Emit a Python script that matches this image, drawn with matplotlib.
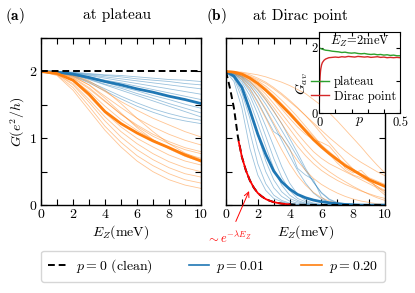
import numpy as np
import matplotlib
matplotlib.use('Agg')
import matplotlib.pyplot as plt

plt.rcParams['font.family'] = ['cmr10', 'DejaVu Serif']
plt.rcParams['mathtext.fontset'] = 'cm'
plt.rcParams['axes.formatter.use_mathtext'] = True
plt.rcParams['font.size'] = 10

# ---- data ----
E_a = [0, 1, 2, 3, 4, 5, 6, 7, 8, 9, 10]
blue_a_thin = [
    [2.0, 2.0, 1.99, 1.97, 1.95, 1.94, 1.92, 1.90, 1.88, 1.87, 1.85],
    [2.0, 2.0, 1.98, 1.96, 1.94, 1.92, 1.89, 1.87, 1.85, 1.82, 1.80],
    [2.0, 1.99, 1.98, 1.95, 1.92, 1.89, 1.86, 1.83, 1.80, 1.77, 1.74],
    [2.0, 1.99, 1.97, 1.94, 1.90, 1.86, 1.82, 1.78, 1.74, 1.70, 1.66],
    [2.0, 1.99, 1.97, 1.92, 1.87, 1.83, 1.78, 1.73, 1.68, 1.63, 1.58],
    [2.0, 1.99, 1.96, 1.90, 1.84, 1.77, 1.71, 1.64, 1.58, 1.51, 1.45],
    [2.0, 1.99, 1.95, 1.89, 1.81, 1.75, 1.67, 1.60, 1.52, 1.45, 1.38],
    [2.0, 1.99, 1.95, 1.88, 1.80, 1.72, 1.64, 1.56, 1.48, 1.40, 1.32],
    [2.0, 1.99, 1.94, 1.85, 1.74, 1.63, 1.53, 1.44, 1.37, 1.31, 1.27],
    [2.0, 1.99, 1.93, 1.83, 1.71, 1.59, 1.48, 1.39, 1.31, 1.26, 1.22],
]
blue_a_mean = [2.0, 1.99, 1.96, 1.91, 1.85, 1.80, 1.74, 1.69, 1.63, 1.58, 1.52]
orange_a_thin = [
    [2.0, 1.99, 1.94, 1.84, 1.70, 1.55, 1.42, 1.30, 1.20, 1.10, 1.02],
    [2.0, 1.98, 1.92, 1.80, 1.63, 1.46, 1.30, 1.17, 1.06, 0.97, 0.90],
    [2.0, 1.98, 1.90, 1.74, 1.55, 1.36, 1.20, 1.06, 0.95, 0.86, 0.80],
    [2.0, 1.97, 1.88, 1.70, 1.48, 1.28, 1.12, 0.98, 0.86, 0.77, 0.70],
    [2.0, 1.97, 1.85, 1.63, 1.38, 1.17, 1.00, 0.87, 0.75, 0.66, 0.60],
    [2.0, 1.96, 1.82, 1.58, 1.32, 1.10, 0.92, 0.77, 0.65, 0.56, 0.50],
    [2.0, 1.96, 1.80, 1.54, 1.26, 1.02, 0.83, 0.68, 0.56, 0.47, 0.42],
    [2.0, 1.95, 1.76, 1.48, 1.18, 0.94, 0.74, 0.59, 0.47, 0.38, 0.33],
    [2.0, 1.94, 1.72, 1.42, 1.12, 0.87, 0.66, 0.50, 0.38, 0.30, 0.25],
    [2.0, 1.98, 1.93, 1.80, 1.60, 1.38, 1.16, 0.98, 0.84, 0.73, 0.65],
    [2.0, 1.99, 1.95, 1.86, 1.72, 1.52, 1.30, 1.10, 0.92, 0.78, 0.68],
    [2.0, 1.98, 1.91, 1.76, 1.56, 1.36, 1.18, 1.03, 0.92, 0.83, 0.77],
]
orange_a_mean = [2.0, 1.97, 1.87, 1.66, 1.40, 1.22, 1.08, 0.96, 0.86, 0.75, 0.66]

E_b = np.arange(0, 10.01, 0.5)
blue_b_thin = [
    [2.0, 1.85, 1.45, 0.85, 0.45, 0.22, 0.10, 0.05, 0.02, 0.01, 0, 0, 0, 0, 0, 0, 0, 0, 0, 0, 0],
    [2.0, 1.90, 1.60, 1.10, 0.62, 0.32, 0.15, 0.07, 0.03, 0.01, 0, 0, 0, 0, 0, 0, 0, 0, 0, 0, 0],
    [2.0, 1.92, 1.68, 1.30, 0.85, 0.50, 0.26, 0.13, 0.06, 0.03, 0.01, 0, 0, 0, 0, 0, 0, 0, 0, 0, 0],
    [2.0, 1.94, 1.76, 1.45, 1.05, 0.66, 0.38, 0.20, 0.10, 0.05, 0.02, 0.01, 0, 0, 0, 0, 0, 0, 0, 0, 0],
    [2.0, 1.95, 1.80, 1.55, 1.22, 0.88, 0.55, 0.30, 0.15, 0.07, 0.03, 0.01, 0, 0, 0, 0, 0, 0, 0, 0, 0],
    [2.0, 1.96, 1.84, 1.64, 1.36, 1.03, 0.70, 0.42, 0.22, 0.10, 0.05, 0.02, 0, 0, 0, 0, 0, 0, 0, 0, 0],
    [2.0, 1.97, 1.87, 1.70, 1.46, 1.18, 0.88, 0.58, 0.33, 0.16, 0.07, 0.03, 0.01, 0, 0, 0, 0, 0, 0, 0, 0],
    [2.0, 1.97, 1.89, 1.75, 1.55, 1.32, 1.10, 1.02, 0.85, 0.55, 0.45, 0.38, 0.12, 0.03, 0, 0, 0, 0, 0, 0, 0],
    [2.0, 1.98, 1.91, 1.79, 1.62, 1.42, 1.20, 0.97, 0.74, 0.52, 0.33, 0.18, 0.09, 0.04, 0.02, 0.01, 0, 0, 0, 0, 0],
    [2.0, 1.98, 1.92, 1.82, 1.68, 1.51, 1.32, 1.12, 0.92, 0.72, 0.52, 0.34, 0.19, 0.09, 0.04, 0.02, 0.01, 0, 0, 0, 0],
    [2.0, 1.98, 1.93, 1.85, 1.73, 1.58, 1.41, 1.22, 1.00, 0.78, 0.55, 0.35, 0.18, 0.08, 0.03, 0.01, 0, 0, 0, 0, 0],
]
blue_b_mean = [2.0, 1.93, 1.76, 1.42, 1.06, 0.76, 0.51, 0.35, 0.24, 0.16, 0.11, 0.075, 0.05, 0.035,
               0.02, 0.01, 0.005, 0, 0, 0, 0]
orange_b_thin = [
    [2.0, 2.0, 1.99, 1.97, 1.95, 1.92, 1.88, 1.84, 1.79, 1.73, 1.67, 1.58, 1.49, 1.38, 1.26, 1.13, 1.00, 0.87, 0.73, 0.60, 0.48],
    [2.0, 1.99, 1.97, 1.93, 1.88, 1.82, 1.74, 1.65, 1.55, 1.45, 1.34, 1.23, 1.12, 1.01, 0.91, 0.81, 0.72, 0.64, 0.57, 0.50, 0.44],
    [2.0, 1.99, 1.96, 1.91, 1.84, 1.75, 1.64, 1.52, 1.40, 1.27, 1.14, 1.02, 0.90, 0.80, 0.70, 0.62, 0.54, 0.47, 0.41, 0.36, 0.31],
    [2.0, 1.99, 1.95, 1.88, 1.78, 1.66, 1.52, 1.37, 1.22, 1.07, 0.93, 0.80, 0.70, 0.62, 0.56, 0.50, 0.44, 0.38, 0.32, 0.26, 0.21],
    [2.0, 1.98, 1.93, 1.84, 1.72, 1.57, 1.40, 1.22, 1.04, 0.88, 0.74, 0.62, 0.52, 0.44, 0.37, 0.31, 0.26, 0.21, 0.17, 0.13, 0.10],
    [2.0, 1.98, 1.91, 1.79, 1.63, 1.44, 1.23, 1.02, 0.83, 0.66, 0.52, 0.40, 0.31, 0.24, 0.18, 0.13, 0.09, 0.06, 0.04, 0.02, 0.01],
    [2.0, 1.97, 1.88, 1.73, 1.53, 1.30, 1.06, 0.83, 0.62, 0.44, 0.30, 0.19, 0.11, 0.06, 0.03, 0.01, 0, 0, 0, 0, 0],
    [2.0, 1.99, 1.96, 1.90, 1.82, 1.71, 1.58, 1.44, 1.30, 1.17, 1.06, 0.98, 0.94, 0.88, 0.74, 0.55, 0.48, 0.52, 0.40, 0.25, 0.15],
    [2.0, 2.0, 1.98, 1.95, 1.90, 1.84, 1.76, 1.67, 1.57, 1.46, 1.34, 1.21, 1.07, 0.93, 0.79, 0.66, 0.54, 0.44, 0.35, 0.28, 0.22],
    [2.0, 1.99, 1.97, 1.92, 1.86, 1.78, 1.68, 1.57, 1.45, 1.32, 1.18, 1.04, 0.90, 0.76, 0.63, 0.52, 0.45, 0.41, 0.36, 0.28, 0.18],
    [2.0, 1.99, 1.94, 1.86, 1.75, 1.61, 1.46, 1.30, 1.14, 0.98, 0.83, 0.70, 0.59, 0.50, 0.42, 0.35, 0.28, 0.22, 0.16, 0.11, 0.07],
]
orange_b_mean = [2.0, 1.99, 1.96, 1.90, 1.82, 1.72, 1.61, 1.49, 1.37, 1.24, 1.11, 0.98, 0.87, 0.77,
                 0.68, 0.59, 0.52, 0.45, 0.38, 0.33, 0.28]

E_clean = [0, 0.25, 0.5, 0.75, 1.0, 1.25, 1.5, 1.75, 2.0, 2.25, 2.5, 2.75, 3.0, 3.25, 3.5, 3.75,
           4.0, 4.25, 4.5, 4.75, 5.0, 10.0]
G_clean = [2.0, 1.75, 1.45, 1.02, 0.72, 0.52, 0.37, 0.26, 0.18, 0.13, 0.09, 0.065, 0.045, 0.032,
           0.022, 0.016, 0.011, 0.008, 0.005, 0.004, 0.003, 0.0]
E_fit = [0.8, 1.0, 1.25, 1.5, 1.75, 2.0, 2.25, 2.5, 2.75, 3.0, 3.25, 3.5, 3.75, 4.0]
G_fit = [0.95, 0.72, 0.52, 0.37, 0.26, 0.18, 0.13, 0.09, 0.065, 0.045, 0.032, 0.022, 0.016, 0.011]

# inset: average conductance vs disorder p at E_Z = 2 meV
p_plat = np.arange(0, 0.501, 0.02)
g_plat = [2.0, 1.96, 1.93, 1.92, 1.90, 1.89, 1.88, 1.86, 1.87, 1.85, 1.84, 1.85, 1.83, 1.82, 1.83,
          1.81, 1.80, 1.81, 1.79, 1.80, 1.78, 1.79, 1.77, 1.78, 1.76, 1.76]
p_dirac = [0, 0.002, 0.004, 0.006, 0.008, 0.01, 0.015, 0.02, 0.03, 0.04, 0.05, 0.06, 0.08] + \
    list(np.arange(0.10, 0.501, 0.02))
g_dirac = [0.0, 0.55, 0.90, 1.12, 1.26, 1.35, 1.48, 1.55, 1.62, 1.66, 1.68, 1.70, 1.71,
           1.72, 1.71, 1.73, 1.72, 1.74, 1.73, 1.72, 1.74, 1.73, 1.72, 1.73, 1.71, 1.72, 1.73,
           1.71, 1.72, 1.70, 1.71, 1.70, 1.71, 1.70]

BLUE = '#1f77b4'
ORANGE = '#ff7f0e'

fig = plt.figure(figsize=(4.15, 2.93), dpi=100)
axa = fig.add_axes([0.0988, 0.300, 0.3855, 0.570])
axb = fig.add_axes([0.5446, 0.300, 0.3831, 0.570])


def style(ax, ylabels):
    ax.set_xlim(0, 10)
    ax.set_ylim(0, 2.5)
    ax.set_xticks(range(11))
    ax.set_xticklabels(['0', '', '2', '', '4', '', '6', '', '8', '', '10'])
    ax.set_yticks([0, 0.5, 1, 1.5, 2, 2.5])
    if ylabels:
        ax.set_yticklabels(['0', '', '1', '', '2', ''])
    else:
        ax.set_yticklabels([])
    ax.tick_params(direction='in', top=True, right=True, length=4, width=0.8, pad=3)
    for s in ax.spines.values():
        s.set_linewidth(1.0)
    ax.set_xlabel(r'$E_Z$(meV)', labelpad=1)


# panel (a)
for g in blue_a_thin:
    axa.plot(E_a, g, color=BLUE, lw=0.6, alpha=0.45)
for g in orange_a_thin:
    axa.plot(E_a, g, color=ORANGE, lw=0.6, alpha=0.45)
axa.plot(E_a, blue_a_mean, color=BLUE, lw=2.0)
axa.plot(E_a, orange_a_mean, color=ORANGE, lw=2.0)
axa.plot([0, 10], [2, 2], color='k', lw=1.4, ls=(0, (3.5, 2)))
style(axa, True)
axa.set_ylabel(r'$G(e^2/h)$', labelpad=2)

# panel (b)
for g in blue_b_thin:
    axb.plot(E_b, g, color=BLUE, lw=0.6, alpha=0.45)
for g in orange_b_thin:
    axb.plot(E_b, g, color=ORANGE, lw=0.6, alpha=0.45)
axb.plot(E_b, blue_b_mean, color=BLUE, lw=2.0)
axb.plot(E_b, orange_b_mean, color=ORANGE, lw=2.0)
axb.plot(E_clean, G_clean, color='k', lw=1.4, ls=(0, (3.5, 2)))
axb.plot(E_fit, G_fit, color='red', lw=1.3)
style(axb, False)
axb.annotate(r'$\sim e^{-\lambda E_Z}$', xy=(1.45, 0.21), xytext=(0.15, -0.5),
             color='red', fontsize=9, ha='center', va='center', annotation_clip=False,
             arrowprops=dict(arrowstyle='->', color='red', lw=0.7, shrinkA=5, shrinkB=0))

# titles
fig.text(0.013, 0.947, r'$\mathbf{(a)}$', fontsize=11, va='center', ha='left')
fig.text(0.283, 0.947, 'at plateau', fontsize=11, va='center', ha='center')
fig.text(0.497, 0.947, r'$\mathbf{(b)}$', fontsize=11, va='center', ha='left')
fig.text(0.723, 0.947, 'at Dirac point', fontsize=11, va='center', ha='center')

# inset
axi = fig.add_axes([0.769, 0.614, 0.195, 0.278])
axi.plot(p_plat, g_plat, color='#2ca02c', lw=1.0, label='plateau')
axi.plot(p_dirac, g_dirac, color='#d62728', lw=1.0, label='Dirac point')
axi.set_xlim(0, 0.5)
axi.set_ylim(0, 2.5)
axi.set_xticks([0, 0.1, 0.2, 0.3, 0.4, 0.5])
axi.set_xticklabels(['0', '', '', '', '', '0.5'])
axi.set_yticks([0, 1, 2])
axi.set_yticklabels(['0', '', '2'])
axi.tick_params(direction='in', top=True, right=True, length=3, width=0.8, pad=1, labelsize=9)
axi.tick_params(axis='x', pad=2.5)
axi.set_xlabel(r'$p$', fontsize=10, labelpad=-10)
axi.set_ylabel(r'$G_{av}$', fontsize=10)
axi.yaxis.set_label_coords(-0.11, 0.36)
axi.text(0.5, 0.88, r'$E_Z\!=\!2$meV', transform=axi.transAxes, ha='center', va='center', fontsize=9)
axi.legend(loc='lower right', frameon=False, fontsize=9, handlelength=1.4, handletextpad=0.4,
           borderaxespad=0.1, labelspacing=0.2, bbox_to_anchor=(1.03, 0.05))
axi.patch.set_facecolor('white')

# shared legend at the bottom
handles = [
    plt.Line2D([], [], color='k', lw=1.4, ls=(0, (3.5, 2))),
    plt.Line2D([], [], color=BLUE, lw=1.2),
    plt.Line2D([], [], color=ORANGE, lw=1.2),
]
labels = [r'$p=0$ (clean)', r'$p=0.01$', r'$p=0.20$']
fig.legend(handles, labels, loc='center', bbox_to_anchor=(0.513, 0.091), ncol=3,
           fontsize=10, frameon=True, fancybox=True, edgecolor='#cccccc',
           columnspacing=2.6, handlelength=1.5, handletextpad=0.5, borderpad=0.5)

fig.savefig('out.png', dpi=100)
